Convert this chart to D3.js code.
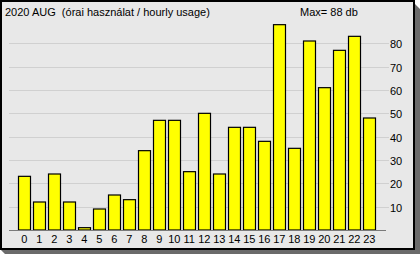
<!DOCTYPE html>
<html><head><meta charset="utf-8">
<script src="https://cdn.jsdelivr.net/npm/d3@7"></script>
<style>html,body{margin:0;padding:0;background:#fff;}svg{display:block;}text{font-family:"Liberation Sans",Arial,sans-serif;font-size:11px;fill:#000;white-space:pre;}</style>
</head><body><svg id="c" width="420" height="254"></svg>
<script>
const hours = ["0","1","2","3","4","5","6","7","8","9","10","11","12","13","14","15","16","17","18","19","20","21","22","23"];
const usage = [23,12,24,12,1,9,15,13,34,47,47,25,50,24,44,44,38,88,35,81,61,77,83,48];
const yTicks = [10,20,30,40,50,60,70,80];
const title = "2020 AUG  (órai használat / hourly usage)";
const maxLabel = "Max= " + d3.max(usage) + " db";

const svg = d3.select("#c");
// shadow
svg.append("path").attr("d","M415,4 L420,9 L420,254 L5,254 L0,249 L415,249 Z").attr("fill","#6b6b6b");
// panel
svg.append("rect").attr("x",1).attr("y",1).attr("width",413).attr("height",248)
  .attr("fill","#e8e8e8").attr("stroke","#000").attr("stroke-width",2);

const x = d3.scaleBand().domain(hours).range([16.75,376.75]).paddingInner(1/6).paddingOuter(1/12);
const y = d3.scaleLinear().domain([0,90]).range([230,20]);

// gridlines
svg.append("g").selectAll("line").data(yTicks).join("line")
  .attr("x1",9).attr("x2",389).attr("y1",d=>Math.round(y(d))+0.5).attr("y2",d=>Math.round(y(d))+0.5)
  .attr("stroke","#d0d0d0").attr("stroke-width",1);
// y labels
svg.append("g").selectAll("text").data(yTicks).join("text")
  .attr("x",390).attr("y",d=>Math.round(y(d))+4.5).text(d=>d);

// bars
svg.append("g").selectAll("rect").data(usage).join("rect")
  .attr("x",(d,i)=>Math.round(x(hours[i]))+0.5)
  .attr("y",d=>y(d))
  .attr("width",Math.round(x.bandwidth())-1)
  .attr("height",d=>y(0)-y(d))
  .attr("fill","#ffff00").attr("stroke","#000").attr("stroke-width",1.2);

// axis line
svg.append("line").attr("x1",9).attr("x2",386).attr("y1",230.5).attr("y2",230.5)
  .attr("stroke","#7a7a7a").attr("stroke-width",1);

// x labels
svg.append("g").selectAll("text").data(hours).join("text")
  .attr("x",d=>x(d)+x.bandwidth()/2).attr("y",243).attr("text-anchor","middle").text(d=>d);

svg.append("text").attr("x",5).attr("y",16).attr("xml:space","preserve").text(title);
svg.append("text").attr("x",300).attr("y",16).text(maxLabel);
</script></body></html>
